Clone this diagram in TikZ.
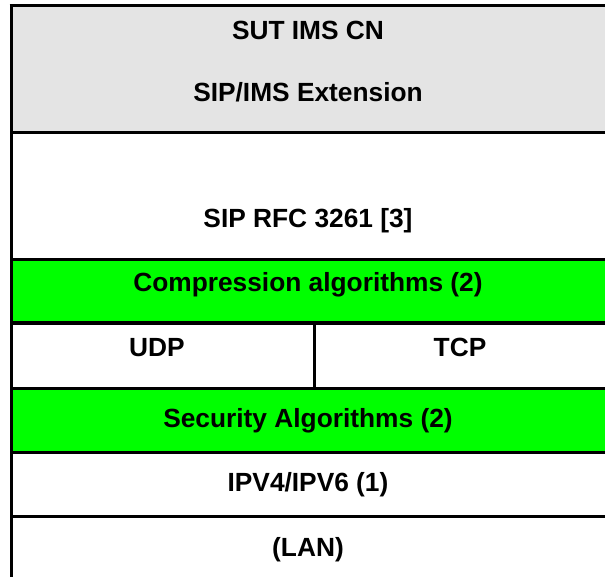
\documentclass[tikz,border=0pt]{standalone}
\usepackage{fontspec}
\setmainfont{Liberation Sans}
\definecolor{layergray}{HTML}{E4E4E4}
\definecolor{layergreen}{HTML}{00FF00}
\begin{document}
\begin{tikzpicture}[x=1pt,y=-1pt,
  rule/.style={line width=3pt},
  label/.style={font=\fontsize{26.3}{31}\selectfont\bfseries, anchor=base, inner sep=0pt}]
\useasboundingbox (0,0) rectangle (605,577);
% layer fills
\fill[layergray] (11,6) rectangle (605,133);
\fill[layergreen] (11,260) rectangle (605,323);
\fill[layergreen] (11,388) rectangle (605,452);
% horizontal rules between layers
\draw[rule] (9.5,6) -- (605,6);
\foreach \y in {133,260,323,388,452,516}
  \draw[rule] (11,\y) -- (605,\y);
% left edge and transport split
\draw[rule] (11,6) -- (11,577);
\draw[rule] (314,323) -- (314,388);
% layer labels
\node[label] (sut)  at (308,40)  {SUT IMS CN};
\node[label] (ext)  at (308,102) {SIP/IMS Extension};
\node[label] (sip)  at (308,228) {SIP RFC 3261 [3]};
\node[label] (comp) at (308,292) {Compression algorithms (2)};
\node[label] (udp)  at (157,356) {UDP};
\node[label] (tcp)  at (460,356) {TCP};
\node[label] (sec)  at (308,427) {Security Algorithms (2)};
\node[label] (ip)   at (308,491) {IPV4/IPV6 (1)};
\node[label] (lan)  at (308,556) {(LAN)};
\end{tikzpicture}
\end{document}
